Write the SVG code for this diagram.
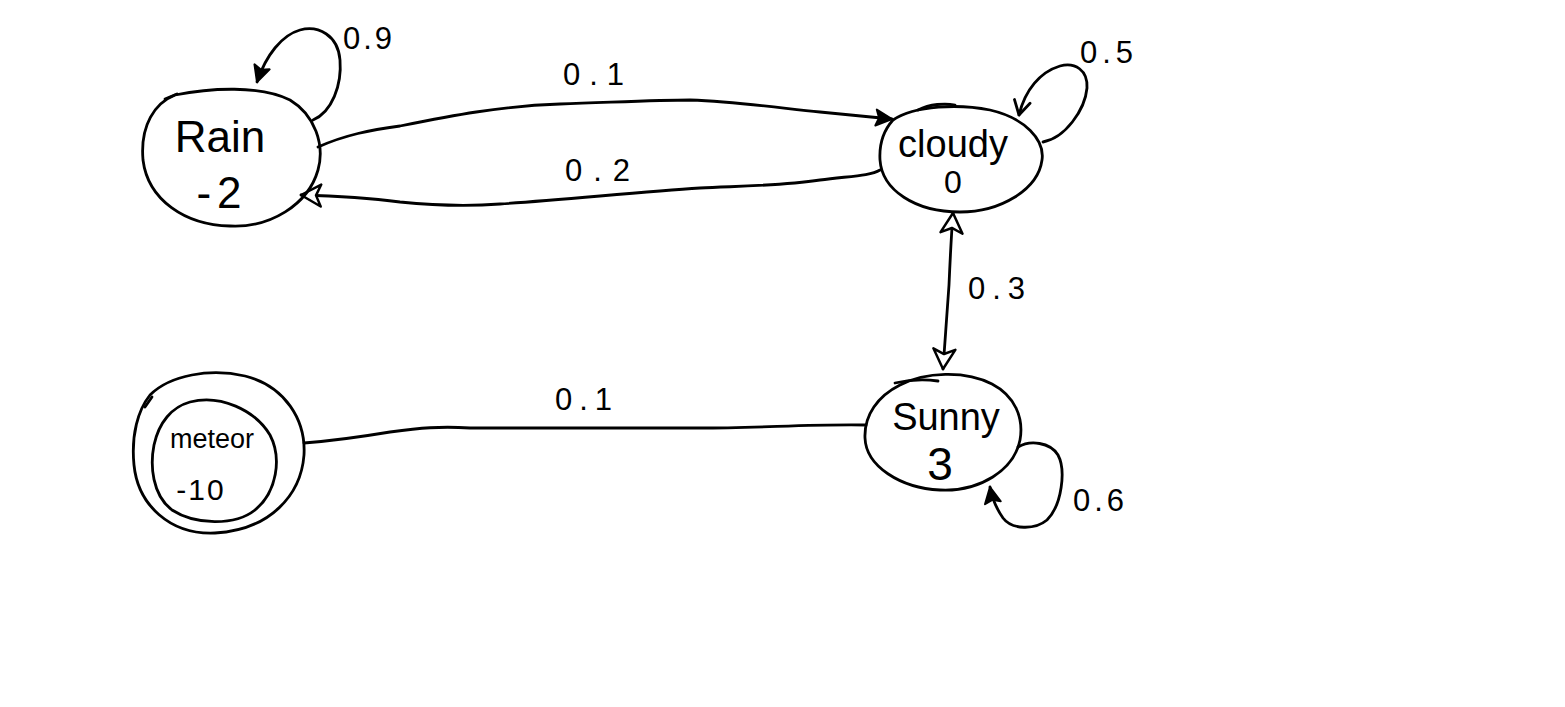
<svg xmlns="http://www.w3.org/2000/svg" width="1565" height="707" viewBox="0 0 1565 707">
  <style>
    .ink { fill: none; stroke: #000; stroke-width: 2.8; stroke-linecap: round; stroke-linejoin: round; }
    .txt { font-family: "Liberation Sans", Arial, sans-serif; fill: #000; }
    .name { text-anchor: middle; }
    .lbl { font-size: 31px; }
  </style>
  <defs>
    <marker id="head-solid" viewBox="-18 -10 20 20" refX="0" refY="0" markerWidth="20" markerHeight="20" markerUnits="userSpaceOnUse" orient="auto">
      <path d="M0,0 L-16,-8 L-13,0 L-16,8 Z" fill="#000" stroke="#000" stroke-width="2" stroke-linejoin="round"/>
    </marker>
    <marker id="head-open" viewBox="-22 -13 24 26" refX="0" refY="0" markerWidth="24" markerHeight="26" markerUnits="userSpaceOnUse" orient="auto-start-reverse">
      <path d="M0,0 L-20,-11 L-15,0 L-20,11 Z" fill="#fff" stroke="#000" stroke-width="2.5" stroke-linejoin="round"/>
    </marker>
    <marker id="head-v" viewBox="-16 -10 18 20" refX="0" refY="0" markerWidth="18" markerHeight="20" markerUnits="userSpaceOnUse" orient="auto">
      <path d="M-14,-8 L0,0 L-14,8" fill="none" stroke="#000" stroke-width="2.8" stroke-linecap="round" stroke-linejoin="round"/>
    </marker>
  </defs>

  <rect width="1565" height="707" fill="#fff"/>

  <!-- transitions -->
  <g id="connectors">
    <!-- Rain self loop -->
    <path class="ink" d="M313,120 C332,112 342,85 340,60 C338,35 318,25 300,30 C282,35 266,55 257,82" marker-end="url(#head-solid)"/>
    <!-- Rain to Cloudy -->
    <path class="ink" d="M318,147 C345,135 370,130 400,126 C450,116 500,106 560,104 C620,102 660,100 690,100 C740,102 780,108 820,112 C850,115 870,117 892,119" marker-end="url(#head-solid)"/>
    <!-- Cloudy to Rain -->
    <path class="ink" d="M880,170 C870,176 850,176 820,180 C780,186 740,186 700,188 C640,192 560,200 500,204 C460,207 430,205 400,202 C370,198 340,196 301,195" marker-end="url(#head-open)"/>
    <!-- Cloudy self loop -->
    <path class="ink" d="M1043,142 C1065,138 1085,110 1087,88 C1088,70 1075,62 1060,66 C1040,72 1025,90 1019,115" marker-end="url(#head-v)"/>
    <!-- Cloudy / Sunny -->
    <path class="ink" d="M953,213 C951,240 950,262 949,285 C947,315 945,340 943,369" marker-start="url(#head-open)" marker-end="url(#head-open)"/>
    <!-- Sunny self loop -->
    <path class="ink" d="M1018,447 C1030,440 1050,442 1058,455 C1066,470 1062,505 1047,520 C1035,530 1012,530 1003,518 C996,508 992,498 990,487" marker-end="url(#head-solid)"/>
    <!-- Meteor to Sunny -->
    <path class="ink" d="M304,443 C330,441 360,437 390,432 C420,428 440,426 470,428 C540,428 620,428 700,428 C760,428 810,424 866,425"/>

    <!-- probabilities -->
    <text class="txt lbl" x="343" y="49" font-size="29" letter-spacing="3">0.9</text>
    <text class="txt lbl" x="563" y="85" letter-spacing="9">0.1</text>
    <text class="txt lbl" x="565" y="181" font-size="33" letter-spacing="11">0.2</text>
    <text class="txt lbl" x="1080" y="63" letter-spacing="5">0.5</text>
    <text class="txt lbl" x="968" y="299" font-size="36" letter-spacing="7">0.3</text>
    <text class="txt lbl" x="555" y="410" font-size="33" letter-spacing="7">0.1</text>
    <text class="txt lbl" x="1073" y="511" font-size="40" letter-spacing="4">0.6</text>
  </g>

  <!-- states -->
  <g id="node-rain">
    <path class="ink" d="M175,95 C210,88 260,85 290,100 C315,115 325,145 318,170 C308,205 270,228 230,226 C185,225 148,200 143,160 C140,125 155,103 175,95 Z"/>
    <path class="ink" d="M165,99 L177,94" stroke-width="4"/>
    <text class="txt name" x="220" y="152" font-size="44">Rain</text>
    <text class="txt name" x="222" y="208" font-size="44" letter-spacing="6">-2</text>
  </g>

  <g id="node-cloudy">
    <path class="ink" d="M893,120 C915,105 960,104 990,110 C1025,118 1045,140 1042,160 C1038,190 1000,212 960,212 C915,212 882,190 880,160 C879,143 884,130 893,120 Z"/>
    <path class="ink" d="M918,110 C930,104 945,103 955,105"/>
    <text class="txt name" x="953" y="157" font-size="38">cloudy</text>
    <text class="txt name" x="953" y="193" font-size="32">0</text>
  </g>

  <g id="node-sunny">
    <path class="ink" d="M900,385 C925,372 965,370 992,384 C1015,396 1024,418 1020,440 C1014,470 980,492 940,490 C900,488 866,466 865,438 C864,415 878,396 900,385 Z"/>
    <path class="ink" d="M895,383 C908,380 925,379 938,381"/>
    <text class="txt name" x="946" y="430" font-size="38">Sunny</text>
    <text class="txt name" x="940" y="480" font-size="46">3</text>
  </g>

  <g id="node-meteor">
    <path class="ink" d="M150,395 C170,375 210,368 245,376 C285,386 306,420 304,455 C301,495 270,530 215,533 C170,535 138,505 134,465 C131,435 138,410 150,395 Z"/>
    <path class="ink" d="M145,407 L152,397"/>
    <path class="ink" d="M190,402 C220,394 255,410 270,435 C282,458 277,492 255,510 C235,526 195,525 172,510 C152,495 150,465 154,445 C159,422 172,407 190,402 Z"/>
    <text class="txt name" x="212" y="448" font-size="27">meteor</text>
    <text class="txt name" x="201" y="500" font-size="30" letter-spacing="2">-10</text>
  </g>
</svg>
